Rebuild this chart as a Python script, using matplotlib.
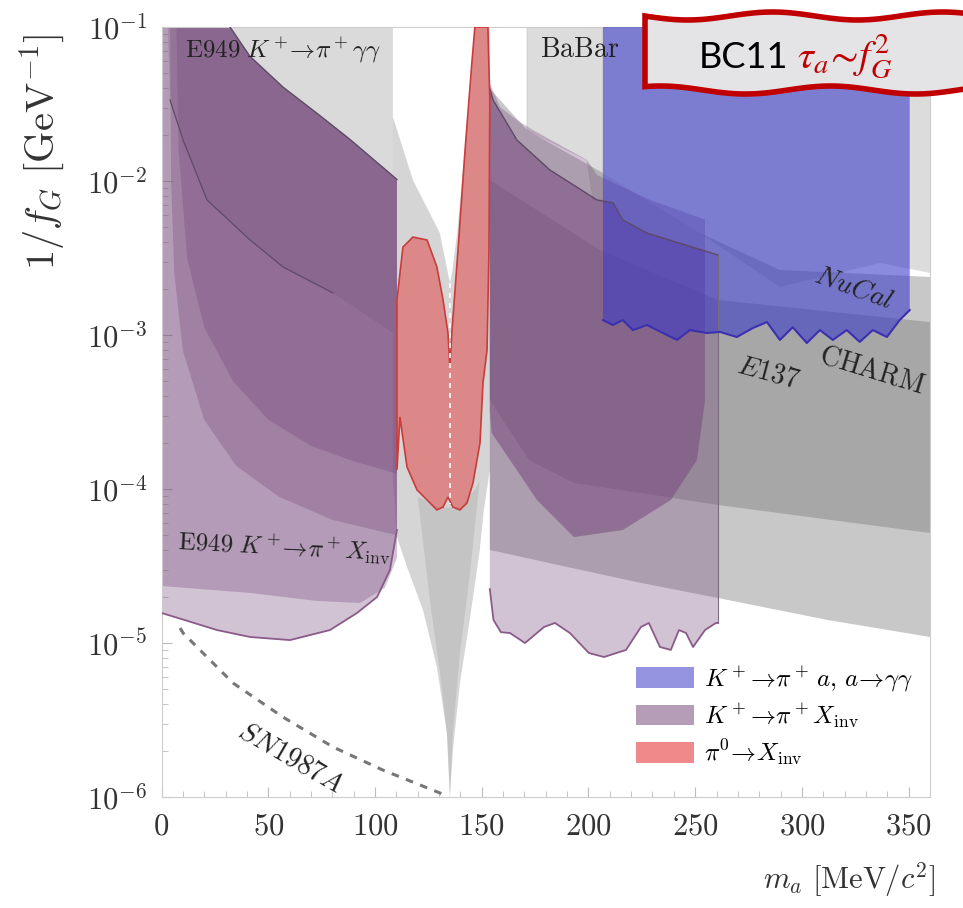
import numpy as np
import matplotlib
matplotlib.use("Agg")
import matplotlib.pyplot as plt
from matplotlib.patches import Patch, Polygon

plt.rcParams["mathtext.fontset"] = "cm"
plt.rcParams["font.family"] = ["DejaVu Serif"]

# ---- data: region outlines, mass in MeV, coupling as log10(1/f_G [GeV^-1]) ----
# E949 K+ -> pi+ gamma gamma (gray, excluded above curve)
e949gg_m = [3, 108.4, 108.4, 80.3, 56.9, 41.5, 21.3, 10.1, 4.0]
e949gg_y = [-1, -1, -2.987, -2.727, -2.558, -2.383, -2.123, -1.734, -1.474]

# top edge shared by the left K+ -> pi+ X_inv regions
left_top_m = [32.1, 41.4, 56.9, 72.8, 88.3, 110.3]
left_top_y = [-1.0, -1.19, -1.39, -1.56, -1.73, -1.99]

# E949 K+ -> pi+ X_inv lower edge (wavy) and inner regions
e949inv_m = [110.3, 107.0, 101.0, 91.6, 78.9, 60.2, 41.5, 26.0, 13.0, 0.0]
e949inv_y = [-4.266, -4.526, -4.701, -4.805, -4.916, -4.981, -4.961, -4.916, -4.86, -4.805]
inv2_m = [110.3, 104.6, 93.0, 72.8, 41.5, 0.0]
inv2_y = [-4.448, -4.643, -4.740, -4.727, -4.675, -4.630]
inv3_m = [110.3, 80.0, 55.0, 35.0, 20.0, 10.0, 6.0, 4.5, 4.0]
inv3_y = [-4.30, -4.20, -4.05, -3.85, -3.55, -3.10, -2.60, -2.0, -1.0]
inv4_m = [110.3, 90.0, 70.0, 50.0, 33.5, 20.0, 12.0, 8.0, 7.0]
inv4_y = [-3.90, -3.82, -3.72, -3.55, -3.30, -2.95, -2.50, -1.80, -1.0]

# pi0 funnel (gray)
funnel_m = [108.4, 117.8, 130.4, 135.1, 136.1, 138.5, 141.3, 144.6, 146.8, 153.8,
            153.8, 151.0, 149.1, 144.6, 139.8, 136.5, 135.1,
            133.7, 129.0, 122.5, 115.0, 110.3, 108.4]
funnel_y = [-1.584, -1.994, -2.338, -2.662, -2.597, -2.338, -1.909, -1.474, -1.0, -1.0,
            -3.877, -4.136, -4.396, -4.831, -5.260, -5.695, -6.0,
            -5.584, -5.156, -4.786, -4.506, -4.312, -3.942]
funnel2_m = [120.0, 126.0, 131.0, 133.8, 135.1, 136.4, 139.5, 144.5, 149.0, 147.0, 140.0, 130.0]
funnel2_y = [-4.05, -4.75, -5.25, -5.60, -6.0, -5.60, -5.10, -4.55, -3.95, -4.0, -4.12, -4.12]

# BaBar, NuCal, CHARM, E137 (gray)
babar_m = [171.2, 206.8, 206.8, 202.1, 199.3, 171.2]
babar_y = [-1.0, -1.0, -2.123, -2.123, -1.864, -1.669]
nucal_m = [206.8, 360, 360, 336.6, 289.7, 252.2, 206.8]
nucal_y = [-1.0, -1.0, -2.597, -2.532, -2.688, -2.338, -1.948]
charm_m = [153.8, 171.2, 206.8, 252.2, 289.7, 360, 360, 260.7, 224.6, 193.2, 172.1, 153.8]
charm_y = [-1.40, -1.669, -1.948, -2.338, -2.578, -2.623,
           -4.286, -4.104, -4.026, -3.961, -3.812, -3.422]
e137_m = [153.8, 205.4, 260.7, 360, 360, 312.2, 260.7, 224.6, 189.9, 153.8]
e137_y = [-1.994, -2.448, -2.773, -2.916, -4.961, -4.851, -4.708, -4.610, -4.506, -4.396]

# right K+ -> pi+ X_inv regions
r_upper_m = [153.8, 158.5, 166.5, 174.0, 199.3, 204.0, 228.8, 254.6]
r_upper_y = [-1.364, -1.519, -1.604, -1.669, -1.864, -1.961, -2.123, -2.25]
r_top_m = [153.8, 155.3, 166.5, 182.0, 204.0, 211.5, 216.1, 227.4, 260.7]
r_top_y = [-1.40, -1.474, -1.734, -1.929, -2.123, -2.142, -2.253, -2.338, -2.481]
r_wavy_m = [260.7, 259.7, 254.6, 249.0, 245.7, 242.4, 238.6, 233.5, 228.3, 224.6,
            217.6, 207.3, 200.2, 191.3, 184.3, 179.2, 170.3, 163.2, 159.0, 155.5, 153.8]
r_wavy_y = [-4.87, -4.870, -4.916, -5.026, -4.935, -4.916, -5.045, -5.026, -4.870, -4.896,
            -5.045, -5.091, -5.065, -4.935, -4.870, -4.896, -5.000, -4.935, -4.93, -4.85, -4.65]
pocket_m = [254.6, 254.6, 250.8, 238.6, 216.1, 193.2, 175.9, 154.7, 153.8]
pocket_y = [-2.6, -3.422, -3.812, -4.071, -4.266, -4.312, -4.071, -3.636, -3.5]

# NA62 K+ -> pi+ a, a -> gamma gamma (blue)
kpa_m = [206.8, 211.5, 216.1, 220.8, 227.4, 234.9, 241.5, 247.5, 255.5, 261.6, 269.5,
         277.0, 283.6, 289.7, 295.7, 302.3, 308.4, 314.5, 321.0, 327.1, 333.2, 339.8,
         345.8, 350.5]
kpa_y = [-2.903, -2.935, -2.903, -2.968, -2.935, -2.987, -3.032, -2.968, -2.987, -2.980,
         -3.013, -2.955, -2.916, -3.032, -2.950, -3.052, -2.968, -3.032, -2.968, -3.045,
         -2.968, -3.013, -2.903, -2.838]

# pi0 -> X_inv (red)
pi0_m = [110.3, 110.3, 113.1, 117.8, 124.4, 129.0, 131.9, 134.2, 135.1, 136.1, 138.9,
         142.2, 145.5, 146.8, 152.9, 153.8, 153.4, 152.5, 150.6, 149.2, 145.9, 143.1,
         139.8, 136.5, 134.2, 131.9, 129.0, 125.8, 119.7, 115.0, 111.7]
pi0_y = [-3.877, -2.773, -2.429, -2.364, -2.383, -2.558, -2.773, -2.987, -3.208, -2.968,
         -2.448, -1.799, -1.214, -1.0, -1.0, -1.474, -2.448, -3.097, -3.312, -3.701,
         -3.961, -4.091, -4.136, -4.117, -4.052, -4.117, -4.136, -4.091, -4.006, -3.857,
         -3.532]

# SN1987A (dashed)
sn_m = [8.7, 10.1, 18.0, 33.5, 56.9, 80.3, 103.7, 121.1, 132.8]
sn_y = [-4.903, -4.935, -5.045, -5.26, -5.481, -5.675, -5.825, -5.922, -5.987]

legend_labels = [r"$K^+\!\to\!\pi^+\,a,\,a\!\to\!\gamma\gamma$",
                 r"$K^+\!\to\!\pi^+X_{\rm inv}$",
                 r"$\pi^0\!\to\!X_{\rm inv}$"]

GRAY = "#777777"
PURPLE = "#784b7d"
BLUE = "#3c3cc8"
RED = "#e63c3c"
PA = 0.33


def Y(v):
    return 10.0 ** np.asarray(v, dtype=float)


fig = plt.figure(figsize=(9.63, 9.08), dpi=100)
ax = fig.add_axes([161.5 / 963, 1 - 797 / 908, 768.5 / 963, 770 / 908])
ax.set_yscale("log")

# gray constraints
ax.fill(e949gg_m, Y(e949gg_y), color=GRAY, alpha=0.27, lw=0, zorder=1)
ax.fill(funnel_m, Y(funnel_y), color=GRAY, alpha=0.30, lw=0, zorder=1)
ax.fill(funnel2_m, Y(funnel2_y), color=GRAY, alpha=0.18, lw=0, zorder=1)
ax.fill(babar_m, Y(babar_y), fc=GRAY, alpha=0.25, ec="#888888", lw=0.6, zorder=1)
ax.fill(nucal_m, Y(nucal_y), color=GRAY, alpha=0.25, lw=0, zorder=1)
ax.fill(charm_m, Y(charm_y), color=GRAY, alpha=0.40, lw=0, zorder=1)
ax.fill(e137_m, Y(e137_y), color=GRAY, alpha=0.40, lw=0, zorder=1)
ax.plot(e949gg_m[3:], Y(e949gg_y[3:]), color="#5e4a66", lw=0.9, zorder=5)

# left K+ -> pi+ X_inv
for low_m, low_y in [(e949inv_m, e949inv_y), (inv2_m, inv2_y)]:
    ax.fill([0] + left_top_m + low_m, Y([-1] + left_top_y + low_y),
            color=PURPLE, alpha=PA, lw=0, zorder=2)
for low_m, low_y in [(inv3_m, inv3_y), (inv4_m, inv4_y)]:
    ax.fill(left_top_m + low_m, Y(left_top_y + low_y),
            color=PURPLE, alpha=PA, lw=0, zorder=2)
ax.plot(e949inv_m, Y(e949inv_y), color="#8a5a88", lw=1.3, zorder=5)
ax.plot(left_top_m, Y(left_top_y), color="#5e4a66", lw=1.0, zorder=5)

# right K+ -> pi+ X_inv
ax.fill(r_top_m + r_wavy_m, Y(r_top_y + r_wavy_y), color=PURPLE, alpha=PA, lw=0, zorder=2)
ax.fill(r_upper_m + pocket_m, Y(r_upper_y + pocket_y), color=PURPLE, alpha=PA, lw=0, zorder=2)
ax.fill(r_top_m[:-1] + [254.6] + pocket_m, Y(r_top_y[:-1] + [-2.45] + pocket_y),
        color=PURPLE, alpha=PA, lw=0, zorder=2)
ax.plot(r_wavy_m, Y(r_wavy_y), color="#8a5a88", lw=1.3, zorder=5)
ax.plot(r_top_m, Y(r_top_y), color="#5e4a66", lw=1.0, zorder=5)
ax.plot([260.7, 260.7], Y([r_top_y[-1], r_wavy_y[0]]), color="#7a6a80", lw=0.8, zorder=5)

# blue
ax.fill([206.8] + kpa_m + [350.5], Y([-1] + kpa_y + [-1]),
        fc=BLUE, alpha=0.6, ec="none", zorder=3)
ax.plot(kpa_m, Y(kpa_y), color="#3a30b0", lw=1.5, zorder=5)

# red
ax.fill(pi0_m, Y(pi0_y), fc=RED, alpha=0.5, ec="none", zorder=4)
ax.fill(pi0_m + [pi0_m[0]], Y(pi0_y + [pi0_y[0]]), fill=False, ec="#c83c3c", lw=1.2, zorder=5)
ax.plot([135.1, 135.1], Y([-2.66, -4.1]), color="white", lw=1.2, ls=(0, (3, 3)), zorder=6)

# SN1987A
ax.plot(sn_m, Y(sn_y), color="#777777", lw=2.2, ls=(0, (2.5, 2.5)), zorder=6)

# labels
tkw = dict(color="#222222", zorder=7)
ax.text(11.0, Y(-1.149), r"$\mathrm{E949}\ K^+\!\!\to\!\pi^+\gamma\gamma$", va="center",
        fontsize=18, **tkw)
ax.text(177.3, Y(-1.149), r"$\mathrm{BaBar}$", va="center", fontsize=20, **tkw)
ax.text(7.3, Y(-4.377), r"$\mathrm{E949}\ K^+\!\!\to\!\pi^+X_{\rm inv}$", va="center",
        rotation=-3, fontsize=18, **tkw)
ax.text(324.4, Y(-2.695), r"$\mathit{NuCal}$", ha="center", va="center", rotation=-20,
        fontsize=20, **tkw)
ax.text(284.1, Y(-3.247), r"$\mathit{E137}$", ha="center", va="center", rotation=-15,
        fontsize=20, **tkw)
ax.text(332.8, Y(-3.227), r"$\mathrm{CHARM}$", ha="center", va="center", rotation=-17,
        fontsize=20, **tkw)
ax.text(60.7, Y(-5.747), r"$\mathit{SN1987A}$", ha="center", va="center", rotation=-30,
        fontsize=20, **tkw)

# axes
ax.set_xlim(0, 360)
ax.set_ylim(1e-6, 1e-1)
ax.set_xticks(np.arange(0, 351, 50))
ax.set_xticks(np.arange(0, 361, 10), minor=True)
ax.set_xticklabels([f"${v}$" for v in range(0, 351, 50)])
ax.set_yticks(Y(np.arange(-6, 0)))
ax.set_yticklabels([rf"$10^{{{k}}}$" for k in range(-6, 0)])
ax.tick_params(which="both", direction="in", colors="#bbbbbb", labelcolor="#333333",
               labelsize=22, top=False, right=False)
ax.tick_params(which="major", length=7, pad=10)
ax.tick_params(which="minor", length=4)
for s in ax.spines.values():
    s.set_color("#cccccc")

fig.text(42 / 963, 1 - 152 / 908, r"$1/f_G\ [\mathrm{GeV}^{-1}]$", rotation=90,
         ha="center", va="center", fontsize=29, color="#333333")
fig.text(935 / 963, 1 - 880 / 908, r"$m_a\ [\mathrm{MeV}/c^2]$", ha="right", va="center",
         fontsize=22, color="#333333")

handles = [Patch(fc=BLUE, alpha=0.55, ec="none"), Patch(fc=PURPLE, alpha=0.55, ec="none"),
           Patch(fc=RED, alpha=0.6, ec="none")]
ax.legend(handles, legend_labels, loc="upper left", bbox_to_anchor=(0.605, 0.185),
          frameon=False, fontsize=18, handlelength=2.3, handleheight=0.9,
          labelspacing=0.3, handletextpad=0.4, borderaxespad=0)

# title box (wavy)
xs = np.linspace(645, 975, 80)
top = 16 + 4 * np.sin(2 * np.pi * (xs - 645) / 170)
bot = 90 - 4 * np.sin(2 * np.pi * (xs - 645) / 170 + 1.0)
pts = np.column_stack([np.r_[xs, xs[::-1]] / 963, 1 - np.r_[top, bot[::-1]] / 908])
fig.patches.append(Polygon(pts, closed=True, transform=fig.transFigure, fc="#e4e4e7",
                           ec="#c00000", lw=4, zorder=10))
fig.text(699 / 963, 1 - 68 / 908, "BC11", family="Lato", fontsize=26, color="black",
         va="baseline", zorder=11)
fig.text(797 / 963, 1 - 68 / 908, r"$\tau_a\!\sim\!f_G^2$", math_fontfamily="stix",
         fontsize=29, color="#c00000", va="baseline", zorder=11)

fig.savefig("out.png", dpi=100)
